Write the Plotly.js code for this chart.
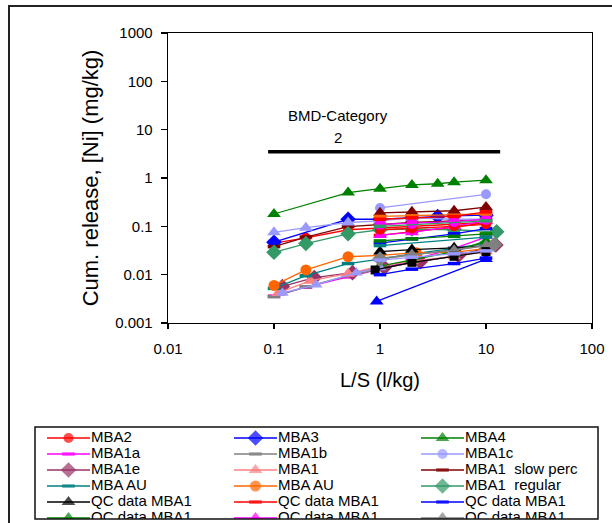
<!DOCTYPE html>
<html>
<head>
<meta charset="utf-8">
<script src="https://cdn.plot.ly/plotly-3.0.1.min.js"></script>
<style>html,body{margin:0;padding:0;background:#fff;}#chart{width:612px;height:523px;}</style>
</head>
<body>
<div id="chart"></div>
<script>
// ---------- data ----------
const lsFull = [0.1, 0.2, 0.5, 1, 2, 5, 10];
const lsBMA  = [0.1, 0.5, 1, 2, 3.5, 5, 10];
const lsQC   = [1, 2, 5, 10];

const mba2Y   = [0.045, 0.058, 0.085, 0.092, 0.10, 0.11, 0.12];
const mba3Y   = [0.047, 0.14, 0.14, 0.15, 0.16, 0.165, 0.17];
const mba4Y   = [0.18, 0.50, 0.60, 0.72, 0.76, 0.82, 0.90];
const mba1aY  = [0.0036, 0.0055, 0.009, 0.013, 0.020, 0.035, 0.060];
const mba1bY  = [0.0035, 0.0056, 0.0095, 0.013, 0.018, 0.024, 0.032];
const mba1cX  = [1, 10];
const mba1cY  = [0.24, 0.46];
const mba1eX  = [0.12, 0.24, 0.55, 1.1, 2.4, 5.5, 12.4];
const mba1eY  = [0.0057, 0.0087, 0.011, 0.014, 0.0186, 0.025, 0.041];
const mba1X   = [0.11, 0.22, 0.5, 1, 2, 5, 10];
const mba1Y   = [0.0042, 0.0075, 0.0105, 0.015, 0.019, 0.024, 0.030];
const slowY   = [0.038, 0.060, 0.099, 0.11, 0.12, 0.13, 0.14];
const auTealY = [0.0052, 0.0095, 0.017, 0.021, 0.027, 0.035, 0.045];
const auOrX   = [0.1, 0.2, 0.5, 1, 2.2, 5, 10];
const auOrY   = [0.006, 0.0125, 0.0235, 0.025, 0.0285, 0.029, 0.035];
const regX    = [0.1, 0.2, 0.5, 1, 2, 5, 12.6];
const regY    = [0.029, 0.044, 0.070, 0.085, 0.088, 0.085, 0.077];
const qcBlackY   = [0.030, 0.033, 0.036, 0.040];
const qcRedY     = [0.065, 0.078, 0.095, 0.12];
const qcBlueY    = [0.045, 0.055, 0.070, 0.090];
const qcGreenY   = [0.015, 0.020, 0.030, 0.050];
const qcMagentaY = [0.066, 0.075, 0.10, 0.13];
const qcGrayY    = [0.022, 0.026, 0.032, 0.040];
// further series (legend entries cut off below the box)
const blueTriX = [0.93, 10];
const blueTriY = [0.0028, 0.021];
const lavTriY  = [0.075, 0.094, 0.12, 0.13, 0.15, 0.14, 0.14];
const lavLowX  = [0.12, 0.25, 0.6, 1];
const lavLowY  = [0.0042, 0.0062, 0.011, 0.014];
const dkRedTriY = [0.19, 0.20, 0.21, 0.25];
const blackSqX = [0.9, 2, 5, 10];
const blackSqY = [0.0125, 0.018, 0.024, 0.030];
const grayDiaX = [1, 12];
const grayDiaY = [0.021, 0.042];
const exRedY   = [0.085, 0.09, 0.10, 0.11];
const exBlueY  = [0.010, 0.013, 0.017, 0.022];
const exGreenY = [0.050, 0.055, 0.062, 0.070];
const exTealX  = [1, 10];
const exTealY  = [0.040, 0.060];
const exMagY   = [0.11, 0.115, 0.125, 0.14];
const exOrY    = [0.16, 0.165, 0.17, 0.18];
const exSeaY   = [0.10, 0.13];
const exLavY   = [0.020, 0.023, 0.027, 0.031];
const exRed2Y  = [0.14, 0.15, 0.16, 0.20];

// BMD category bar
const bmdX = [0.088, 13.6];
const bmdY = [3.5, 3.5];

const xTicks = [0.01, 0.1, 1, 10, 100];
const xTickText = ['0.01', '0.1', '1', '10', '100'];
const yTicks = [0.001, 0.01, 0.1, 1, 10, 100, 1000];
const yTickText = ['0.001', '0.01', '0.1', '1', '10', '100', '1000'];

const legendLabels = ['MBA2', 'MBA3', 'MBA4', 'MBA1a', 'MBA1b', 'MBA1c',
  'MBA1e', 'MBA1', 'MBA1  slow perc', 'MBA AU', 'MBA AU', 'MBA1  regular',
  'QC data MBA1', 'QC data MBA1', 'QC data MBA1', 'QC data MBA1', 'QC data MBA1', 'QC data MBA1'];

// ---------- styles ----------
const FONT = 'Arial, "Liberation Sans", Helvetica, sans-serif';
const C = {red:'#FF0000', blue:'#0000FF', green:'#008000', mag:'#FF00FF', gray:'#808080',
  lav:'#9999FF', plum:'#993366', pink:'#FF8080', dkred:'#800000', teal:'#008080',
  orange:'#FF6600', sea:'#339966', black:'#000000'};

function mk(name, x, y, color, symbol, size) {
  const dash = symbol === 'dash';
  return {
    type: 'scatter', mode: 'lines+markers', name: name, x: x, y: y,
    xaxis: 'x', yaxis: 'y', showlegend: false,
    line: {color: color, width: 1.3},
    marker: dash ? {symbol: 'line-ew', size: 9, color: color, line: {color: color, width: 3.5}}
                 : {symbol: symbol, size: size || 10, color: color, line: {width: 0}}
  };
}

const specs = [
  ['MBA2', lsFull, mba2Y, C.red, 'circle', 10],
  ['MBA3', lsBMA, mba3Y, C.blue, 'diamond', 12],
  ['MBA4', lsBMA, mba4Y, C.green, 'triangle-up', 12],
  ['MBA1a', lsFull, mba1aY, C.mag, 'dash'],
  ['MBA1b', lsFull, mba1bY, C.gray, 'dash'],
  ['MBA1c', mba1cX, mba1cY, C.lav, 'circle', 10],
  ['MBA1e', mba1eX, mba1eY, C.plum, 'diamond', 12],
  ['MBA1', mba1X, mba1Y, C.pink, 'triangle-up', 12],
  ['MBA1 slow perc', lsFull, slowY, C.dkred, 'dash'],
  ['MBA AU', lsFull, auTealY, C.teal, 'dash'],
  ['MBA AU', auOrX, auOrY, C.orange, 'circle', 11],
  ['MBA1 regular', regX, regY, C.sea, 'diamond', 12],
  ['QC data MBA1', lsQC, qcBlackY, C.black, 'triangle-up', 12],
  ['QC data MBA1', lsQC, qcRedY, C.red, 'dash'],
  ['QC data MBA1', lsQC, qcBlueY, C.blue, 'dash'],
  ['QC data MBA1', lsQC, qcGreenY, C.green, 'triangle-up', 12],
  ['QC data MBA1', lsQC, qcMagentaY, C.mag, 'triangle-up', 12],
  ['QC data MBA1', lsQC, qcGrayY, C.gray, 'triangle-up', 12]
];
const extraSpecs = [
  ['QC data MBA1', blueTriX, blueTriY, C.blue, 'triangle-up', 12],
  ['QC data MBA1', lsFull, lavTriY, C.lav, 'triangle-up', 12],
  ['QC data MBA1', lavLowX, lavLowY, C.lav, 'triangle-up', 11],
  ['QC data MBA1', lsQC, dkRedTriY, C.dkred, 'triangle-up', 12],
  ['QC data MBA1', blackSqX, blackSqY, C.black, 'square', 9],
  ['QC data MBA1', grayDiaX, grayDiaY, C.gray, 'diamond', 12],
  ['QC data MBA1', lsQC, exRedY, C.red, 'circle', 10],
  ['QC data MBA1', lsQC, exBlueY, C.blue, 'dash'],
  ['QC data MBA1', lsQC, exGreenY, C.green, 'dash'],
  ['QC data MBA1', exTealX, exTealY, C.teal, 'dash'],
  ['QC data MBA1', lsQC, exMagY, C.mag, 'circle', 11],
  ['QC data MBA1', lsQC, exOrY, C.orange, 'dash'],
  ['QC data MBA1', exTealX, exSeaY, C.sea, 'dash'],
  ['QC data MBA1', lsQC, exLavY, C.lav, 'dash'],
  ['QC data MBA1', lsQC, exRed2Y, C.red, 'dash']
];

const traces = [];
specs.concat(extraSpecs).forEach(s => traces.push(mk(s[0], s[1], s[2], s[3], s[4], s[5])));

traces.push({type:'scatter', mode:'lines', x: bmdX, y: bmdY, xaxis:'x', yaxis:'y',
  showlegend:false, line:{color:'#000', width:3.5}, hoverinfo:'skip'});

// ---------- hand-built legend (second, hidden pair of axes; clipped like the original) ----------
const W = 612, H = 523;
const legBox = {x0: 35, x1: 598, y0: 427, y1: 519};
const colLine = [[47, 90], [234, 277], [421, 464]];
const rowY = [438, 454, 470, 486, 502, 518];
specs.forEach((s, i) => {
  const r = Math.floor(i / 3), c = i % 3;
  const [a, b] = colLine[c];
  const mid = (a + b) / 2;
  const dash = s[4] === 'dash';
  traces.push({type:'scatter', mode:'lines+markers', x:[a, mid, b], y:[rowY[r], rowY[r], rowY[r]],
    xaxis:'x2', yaxis:'y2', showlegend:false, hoverinfo:'skip',
    line:{color:s[3], width:1.3},
    marker: dash ? {symbol:'line-ew', size:[0, 9, 0], color:s[3], line:{color:s[3], width:3.5}}
                 : {symbol:s[4], size:[0, s[5] || 10, 0], color:s[3], line:{width:0}}});
});
traces.push({type:'scatter', mode:'text', xaxis:'x2', yaxis:'y2', showlegend:false, hoverinfo:'skip',
  x: legendLabels.map((t, i) => colLine[i % 3][1] + 1),
  y: legendLabels.map((t, i) => rowY[Math.floor(i / 3)]),
  text: legendLabels, textposition:'middle right',
  textfont:{family:FONT, size:15, color:'#000'}});

const layout = {
  width: W, height: H,
  margin: {l:0, r:0, t:0, b:0},
  paper_bgcolor:'#fff', plot_bgcolor:'#fff',
  showlegend:false,
  font:{family:FONT, color:'#000'},
  xaxis: {type:'log', range:[-2, 2], domain:[168/W, 592/W], anchor:'y',
    showline:true, mirror:true, linecolor:'#000', linewidth:1.3,
    ticks:'outside', ticklen:5, tickwidth:1.2, tickcolor:'#000',
    tickvals:xTicks, ticktext:xTickText, showgrid:false, zeroline:false,
    tickfont:{family:FONT, size:15, color:'#000'}, ticklabelstandoff:7, automargin:false,
    title:{text:'L/S (l/kg)', font:{family:FONT, size:20, color:'#000'}, standoff:16}},
  yaxis: {type:'log', range:[-3, 3], domain:[1 - 323/H, 1 - 33/H], anchor:'x',
    showline:true, mirror:true, linecolor:'#000', linewidth:1.3,
    ticks:'outside', ticklen:6, tickwidth:1.2, tickcolor:'#000',
    tickvals:yTicks, ticktext:yTickText, showgrid:false, zeroline:false,
    tickfont:{family:FONT, size:15, color:'#000'}, ticklabelstandoff:5, automargin:false,
    title:{text:'Cum. release, [Ni] (mg/kg)', font:{family:FONT, size:22, color:'#000'}, standoff:10}},
  xaxis2: {domain:[legBox.x0 / W, legBox.x1 / W], range:[legBox.x0, legBox.x1], anchor:'y2',
    visible:false, fixedrange:true},
  yaxis2: {domain:[1 - legBox.y1 / H, 1 - legBox.y0 / H], range:[legBox.y1, legBox.y0], anchor:'x2',
    visible:false, fixedrange:true},
  shapes: [
    {type:'rect', xref:'paper', yref:'paper', x0:9/W, x1:1.02, y0:-0.02, y1:1 - 6/H,
      line:{color:'#222', width:2}, fillcolor:'rgba(0,0,0,0)', layer:'below'},
    {type:'rect', xref:'paper', yref:'paper', x0:legBox.x0/W, x1:legBox.x1/W,
      y0:1 - legBox.y1/H, y1:1 - legBox.y0/H, line:{color:'#111', width:1.5}, fillcolor:'rgba(0,0,0,0)'}
  ],
  annotations: [
    {xref:'paper', yref:'paper', x:337.5/W, y:1 - 115/H, text:'BMD-Category', showarrow:false,
      font:{family:FONT, size:15, color:'#000'}, xanchor:'center', yanchor:'middle'},
    {xref:'paper', yref:'paper', x:338/W, y:1 - 137/H, text:'2', showarrow:false,
      font:{family:FONT, size:15, color:'#000'}, xanchor:'center', yanchor:'middle'}
  ]
};

Plotly.newPlot('chart', traces, layout, {staticPlot:true, displayModeBar:false});
</script>
</body>
</html>
